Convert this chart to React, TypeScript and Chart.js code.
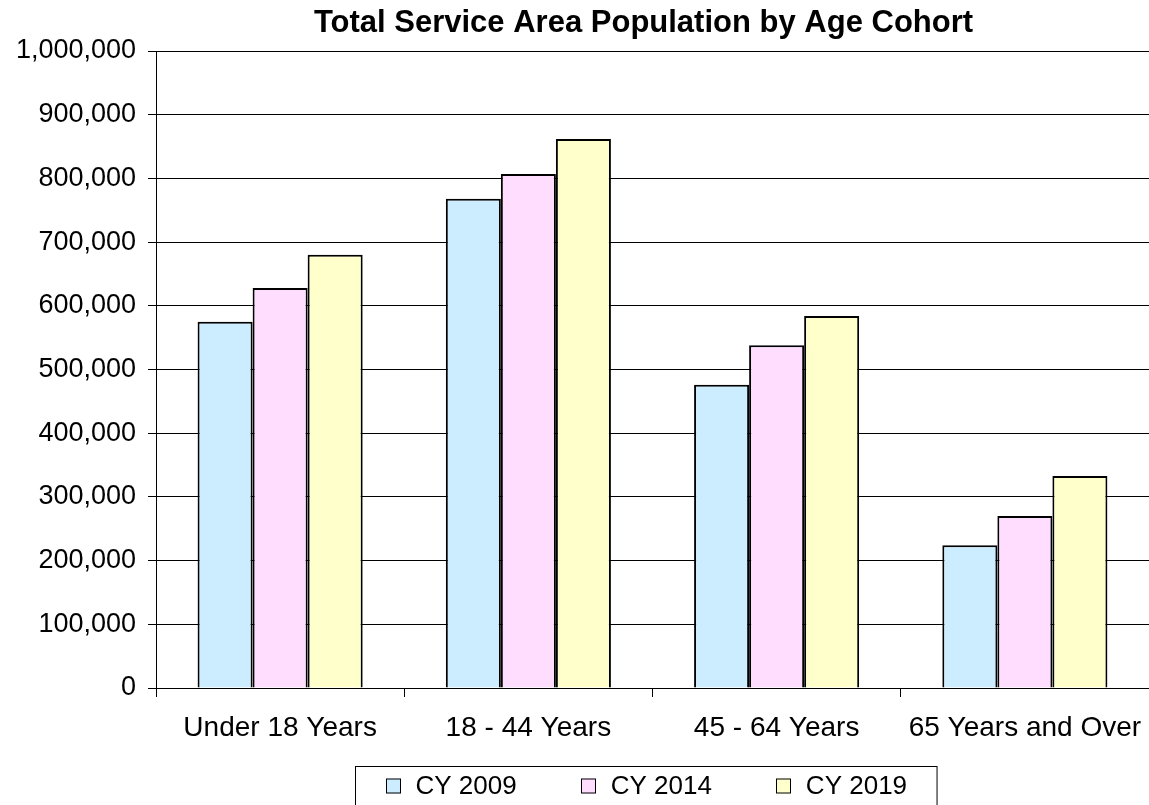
import React, { useEffect, useRef } from "react";
import { Chart, registerables } from "chart.js";

Chart.register(...registerables);

const TITLE = "Total Service Area Population by Age Cohort";
const categories = ["Under 18 Years", "18 - 44 Years", "45 - 64 Years", "65 Years and Over"];
const seriesLabels = ["CY 2009", "CY 2014", "CY 2019"];
const cy2009 = [575000, 768000, 476000, 224000];
const cy2014 = [628000, 807000, 538000, 270000];
const cy2019 = [680000, 862000, 584000, 333000];
const seriesColors = ["#CCECFF", "#FFDDFF", "#FFFFCC"];
const yMin = 0;
const yMax = 1000000;
const yStep = 100000;

const FONT = '"Liberation Sans", Arial, sans-serif';

// Title and boxed legend drawn directly on the canvas
const decorPlugin = {
  id: "decor",
  afterDraw(chart: any) {
    const { ctx, chartArea } = chart;
    const cx = (chartArea.left + chartArea.right) / 2;
    ctx.save();
    ctx.fillStyle = "#000";
    ctx.font = `bold 31px ${FONT}`;
    ctx.textAlign = "center";
    ctx.textBaseline = "alphabetic";
    ctx.fillText(TITLE, cx - 9, chartArea.top - 19);

    // legend
    ctx.font = `26px ${FONT}`;
    const sq = 15;
    const gapSqText = 15;
    const gapItems = 64;
    const padX = 30;
    const widths = chart.data.datasets.map((d: any) => ctx.measureText(d.label).width);
    let total = padX * 2 + gapItems * (widths.length - 1);
    widths.forEach((w: number) => (total += sq + gapSqText + w));
    const left = Math.round(cx - 7 - total / 2) + 0.5;
    const top = chartArea.bottom + 78.5;
    ctx.strokeStyle = "#000";
    ctx.lineWidth = 1;
    ctx.strokeRect(left, top, total, 60);
    let x = left + padX;
    const baseline = top + 27;
    ctx.textAlign = "left";
    chart.data.datasets.forEach((d: any, i: number) => {
      ctx.fillStyle = d.backgroundColor;
      ctx.fillRect(Math.round(x), baseline - sq, sq, sq);
      ctx.strokeStyle = "#000";
      ctx.strokeRect(Math.round(x) + 0.5, baseline - sq + 0.5, sq - 1, sq - 1);
      ctx.fillStyle = "#000";
      ctx.fillText(d.label, x + sq + gapSqText, baseline);
      x += sq + gapSqText + widths[i] + gapItems;
    });
    ctx.restore();
  },
};

export default function App() {
  const canvasRef = useRef<HTMLCanvasElement | null>(null);

  useEffect(() => {
    document.body.style.margin = "0";
    document.body.style.overflow = "hidden";
    const canvas = canvasRef.current;
    if (!canvas) return;
    const series = [cy2009, cy2014, cy2019];
    const chart = new Chart(canvas, {
      type: "bar",
      data: {
        labels: categories,
        datasets: series.map((values, i) => ({
          label: seriesLabels[i],
          data: values,
          backgroundColor: seriesColors[i],
          borderColor: "#000",
          borderWidth: 2,
          categoryPercentage: 0.665,
          barPercentage: 1,
        })),
      },
      options: {
        responsive: false,
        animation: false,
        events: [],
        layout: { padding: { top: 51, right: 0, bottom: 0, left: 0 } },
        plugins: {
          legend: { display: false },
          title: { display: false },
          tooltip: { enabled: false },
        },
        scales: {
          x: {
            afterFit: (scale: any) => {
              scale.height = 117;
              scale.paddingLeft = 0;
              scale.paddingRight = 0;
            },
            grid: {
              drawOnChartArea: false,
              drawTicks: true,
              tickLength: 9,
              color: "#000",
              offset: true,
            },
            border: { display: true, color: "#000", width: 1 },
            ticks: {
              color: "#000",
              font: { family: FONT, size: 28 },
              padding: 14,
              maxRotation: 0,
              autoSkip: false,
            },
          },
          y: {
            min: yMin,
            max: yMax,
            afterFit: (scale: any) => {
              scale.width = 156;
            },
            grid: { color: "#000", lineWidth: 1, tickLength: 8 },
            border: { display: true, color: "#000", width: 1 },
            ticks: {
              stepSize: yStep,
              color: "#000",
              font: { family: FONT, size: 27 },
              padding: 12,
              callback: (v: any) => Number(v).toLocaleString("en-US"),
            },
          },
        },
      },
      plugins: [decorPlugin],
    });
    return () => chart.destroy();
  }, []);

  return (
    <div style={{ width: 1149, height: 805, background: "#fff" }}>
      <canvas ref={canvasRef} width={1149} height={805} style={{ display: "block" }} />
    </div>
  );
}
